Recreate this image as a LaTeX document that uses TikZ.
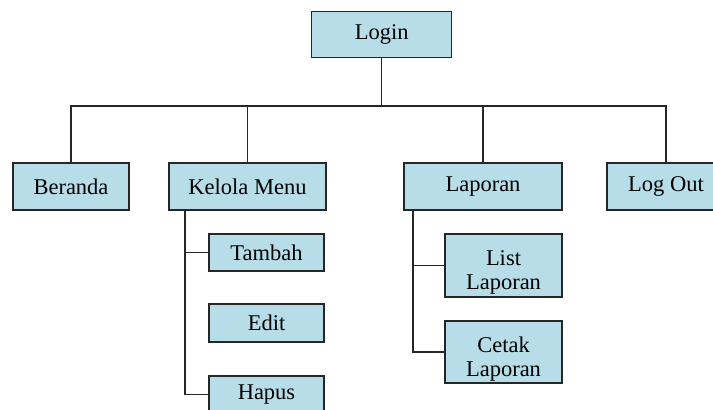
\documentclass[tikz,border=0pt]{standalone}
\usepackage{fontspec}
\setmainfont{Liberation Serif}
\begin{document}
\begin{tikzpicture}[x=1pt,y=-1pt,
  menubox/.style={draw=black!85, line width=1.3pt, fill=boxblue, inner sep=0pt,
    align=center, font=\fontsize{22.5}{24}\selectfont},
  twoline/.style={text height=54pt, text depth=6pt},
  wire/.style={draw=black!85, line width=1.3pt}]
\definecolor{boxblue}{HTML}{B7DDE8}
\useasboundingbox (0,0) rectangle (713,410);
\clip (0,0) rectangle (713,410);

% top level
\node[menubox, minimum width=140pt, minimum height=46pt] (login) at (381.8,34.8) {Login};

% main menu row
\node[menubox, minimum width=116pt, minimum height=47pt] (beranda) at (71,186.5) {Beranda};
\node[menubox, minimum width=157pt, minimum height=47pt] (kelola)  at (247.5,186.5) {Kelola Menu};
\node[menubox, minimum width=158pt, minimum height=47pt] (laporan) at (483,186.5) {Laporan};
\node[menubox, minimum width=118pt, minimum height=47pt] (logout)  at (666,186.5) {Log Out};

% Kelola Menu sub-items
\node[menubox, minimum width=115pt, minimum height=37pt] (tambah) at (266.5,252.5) {Tambah};
\node[menubox, minimum width=115pt, minimum height=38pt] (edit)   at (266.5,323) {Edit};
\node[menubox, minimum width=115pt, minimum height=37pt] (hapus)  at (266.5,394.5) {Hapus};

% Laporan sub-items
\node[menubox, twoline, minimum width=117pt, minimum height=63pt] (list)  at (503.5,265.5) {List\\Laporan};
\node[menubox, twoline, minimum width=117pt, minimum height=62pt] (cetak) at (503.5,352) {Cetak\\Laporan};

% bus from Login to the main menu row
\coordinate (bus) at (0,106);
\draw[wire] (login.south) -- (login.south |- bus);
\draw[wire] (beranda.north) -- (beranda.north |- bus) -- (logout.north |- bus) -- (logout.north);
\draw[wire] (kelola.north) -- (kelola.north |- bus);
\draw[wire] (laporan.north) -- (laporan.north |- bus);

% Kelola Menu spine
\coordinate (kx) at (185,0);
\draw[wire] (kx |- kelola.south) -- (kx |- hapus.west) -- (hapus.west);
\draw[wire] (kx |- tambah.west) -- (tambah.west);

% Laporan spine
\coordinate (lx) at (413,0);
\draw[wire] (lx |- laporan.south) -- (lx |- cetak.west) -- (cetak.west);
\draw[wire] (lx |- list.west) -- (list.west);
\end{tikzpicture}
\end{document}
